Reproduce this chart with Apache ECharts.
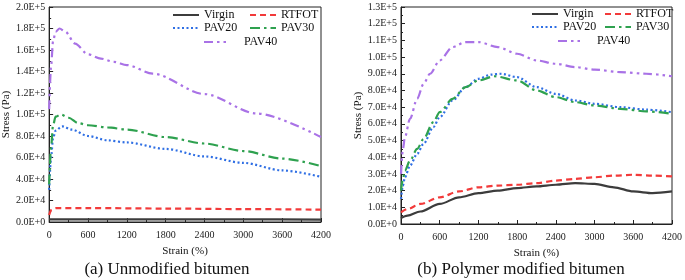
<!DOCTYPE html>
<html>
<head>
<meta charset="utf-8">
<script src="https://cdn.jsdelivr.net/npm/echarts@6/dist/echarts.min.js"></script>
<style>
  html, body { margin: 0; padding: 0; background: #fff; }
  #chart { width: 685px; height: 280px; }
</style>
</head>
<body>
<div id="chart"></div>
<script>
  // (a) unmodified bitumen  [strain %, stress Pa]
  const virginA = [[0, 2500], [600, 2500], [1800, 2400], [3000, 2400], [4200, 2300]];
  const rtfotA = [[0, 6500], [30, 11000], [100, 13000], [600, 13000], [1800, 12500], [3000, 12000], [4200, 11500]];
  const pav20A = [[0, 30000], [30, 60000], [60, 78000], [100, 85000], [200, 89000], [350, 86000], [600, 80000],
    [900, 76000], [1200, 74000], [1800, 68000], [2400, 61000], [3000, 55000], [3600, 48000], [4200, 42000]];
  const pav30A = [[0, 35000], [30, 70000], [60, 90000], [100, 98000], [180, 100000], [300, 97000], [450, 92000],
    [600, 90000], [900, 88000], [1200, 86000], [1800, 79000], [2400, 73000], [3000, 66000], [3600, 59000], [4200, 52000]];
  const pav40A = [[0, 105000], [30, 145000], [60, 168000], [100, 177000], [160, 180000], [250, 177000], [400, 166000],
    [600, 156000], [800, 152000], [1000, 149000], [1200, 146000], [1600, 138000], [2400, 119000], [3200, 101000], [4200, 79000]];

  // (b) polymer modified bitumen
  const virginB = [[0, 3500], [100, 5000], [300, 7500], [600, 12000], [900, 16000], [1200, 18500], [1500, 20000],
    [1800, 21500], [2100, 22500], [2400, 23500], [2700, 24500], [3000, 24000], [3300, 22000], [3600, 19500],
    [3900, 18500], [4200, 19500]];
  const rtfotB = [[0, 7000], [100, 9000], [300, 12000], [600, 16000], [900, 19500], [1200, 22000], [1500, 23000],
    [1800, 23500], [2100, 24500], [2400, 26000], [2700, 27000], [3000, 28000], [3300, 29000], [3600, 29500],
    [3900, 29000], [4200, 28500]];
  const pav20B = [[0, 15000], [30, 23000], [60, 28000], [140, 35000], [250, 42000], [350, 48000], [500, 58000],
    [600, 64000], [800, 74000], [1000, 82000], [1200, 87000], [1400, 89500], [1550, 90000], [1800, 88000],
    [2100, 82000], [2400, 78000], [2700, 74000], [3000, 72000], [3400, 70000], [3800, 68500], [4200, 67000]];
  const pav30B = [[0, 20000], [30, 27000], [60, 32000], [140, 38000], [250, 45000], [350, 51000], [500, 61000],
    [600, 67000], [800, 75000], [1000, 82000], [1200, 86000], [1450, 88500], [1800, 86000], [2100, 80000],
    [2400, 76000], [2700, 73000], [3000, 71000], [3400, 69000], [3800, 67500], [4200, 66000]];
  const pav40B = [[0, 30000], [30, 45000], [60, 52000], [140, 63000], [250, 75000], [350, 84000], [450, 90000],
    [600, 98000], [800, 106000], [1000, 109000], [1200, 109000], [1500, 106000], [1800, 102000], [2100, 98000],
    [2400, 96000], [2700, 94000], [3000, 92500], [3400, 91000], [3800, 90000], [4200, 88500]];

  const serif = '"Liberation Serif", "Times New Roman", serif';
  const chart = echarts.init(document.getElementById('chart'));

  function sciLabel(v) {
    if (v === 0) return '0.0E+0';
    let e = Math.floor(Math.log10(v) + 1e-9);
    return (v / Math.pow(10, e)).toFixed(1) + 'E+' + e;
  }

  function xAxis(idx) {
    return {
      type: 'value', gridIndex: idx, min: 0, max: 4200, interval: 600,
      name: 'Strain (%)', nameLocation: 'middle', nameGap: 24,
      nameTextStyle: { fontFamily: serif, fontSize: 11, color: '#111' },
      axisLine: { lineStyle: { color: '#222', width: 1 } },
      axisTick: { inside: true, length: 4, lineStyle: { color: '#222' } },
      minorTick: { show: true, splitNumber: 2, length: 2, lineStyle: { color: '#222' } },
      axisLabel: { fontFamily: serif, fontSize: 10, color: '#222', margin: 8, formatter: v => String(v) },
      splitLine: { show: false }
    };
  }

  function yAxis(idx, max, step, gap) {
    return {
      type: 'value', gridIndex: idx, min: 0, max: max, interval: step,
      name: 'Stress (Pa)', nameLocation: 'middle', nameGap: gap,
      nameTextStyle: { fontFamily: serif, fontSize: 11, color: '#111' },
      axisLine: { show: true, lineStyle: { color: '#222', width: 1 } },
      axisTick: { inside: true, length: 4, lineStyle: { color: '#222' } },
      minorTick: { show: true, splitNumber: 2, length: 2, lineStyle: { color: '#222' } },
      axisLabel: { fontFamily: serif, fontSize: 10, color: '#222', margin: 4, formatter: sciLabel },
      splitLine: { show: false }
    };
  }

  const styles = {
    Virgin: { color: '#3c3c3c', type: 'solid' },
    RTFOT: { color: '#f23a3a', type: [6, 4] },
    PAV20: { color: '#2f6fe4', type: [2, 2.5] },
    PAV30: { color: '#2ea14f', type: [10, 4, 2.5, 4] },
    PAV40: { color: '#a972e6', type: [9, 4, 2.5, 4, 2.5, 4] }
  };

  function line(name, data, idx) {
    let s = styles[name];
    return {
      name: name, type: 'line', data: data, xAxisIndex: idx, yAxisIndex: idx,
      showSymbol: false, symbol: 'none', smooth: 0.3, smoothMonotone: 'x',
      lineStyle: { color: s.color, type: s.type, width: 2.2 },
      itemStyle: { color: s.color },
      z: name === 'Virgin' ? 1 : 2
    };
  }

  // one legend per item so each can sit where the original puts it
  function leg(name, left, top, pad) {
    return {
      data: [name], left: left, top: top, padding: 0, itemWidth: 26, itemHeight: 12,
      selectedMode: false,
      itemStyle: { color: 'rgba(0,0,0,0)', borderWidth: 0 },
      textStyle: { fontFamily: serif, fontSize: 12, color: '#111', padding: [0, 0, 0, pad || 0] }
    };
  }

  chart.setOption({
    animation: false,
    title: [
      { text: '(a) Unmodified bitumen', left: 167, top: 261, textAlign: 'center', padding: 0,
        textStyle: { fontFamily: serif, fontSize: 17, fontWeight: 'normal', color: '#111' } },
      { text: '(b) Polymer modified bitumen', left: 521, top: 261, textAlign: 'center', padding: 0,
        textStyle: { fontFamily: serif, fontSize: 17, fontWeight: 'normal', color: '#111' } }
    ],
    legend: [
      leg('Virgin', 172, 9), leg('RTFOT', 249, 9),
      leg('PAV20', 172, 22), leg('PAV30', 249, 22),
      leg('PAV40', 203, 36, 9),
      leg('Virgin', 531, 8), leg('RTFOT', 604, 8),
      leg('PAV20', 531, 21), leg('PAV30', 604, 21),
      leg('PAV40', 557, 35, 8)
    ],
    grid: [
      { left: 48, right: 364, top: 7, bottom: 58, show: true, borderColor: '#222', borderWidth: 1 },
      { left: 401, right: 12, top: 7, bottom: 56, show: true, borderColor: '#222', borderWidth: 1 }
    ],
    xAxis: [xAxis(0), xAxis(1)],
    yAxis: [yAxis(0, 200000, 20000, 34), yAxis(1, 130000, 10000, 36)],
    series: [
      line('Virgin', virginA, 0), line('RTFOT', rtfotA, 0), line('PAV20', pav20A, 0),
      line('PAV30', pav30A, 0), line('PAV40', pav40A, 0),
      line('Virgin', virginB, 1), line('RTFOT', rtfotB, 1), line('PAV20', pav20B, 1),
      line('PAV30', pav30B, 1), line('PAV40', pav40B, 1)
    ]
  });
</script>
</body>
</html>
